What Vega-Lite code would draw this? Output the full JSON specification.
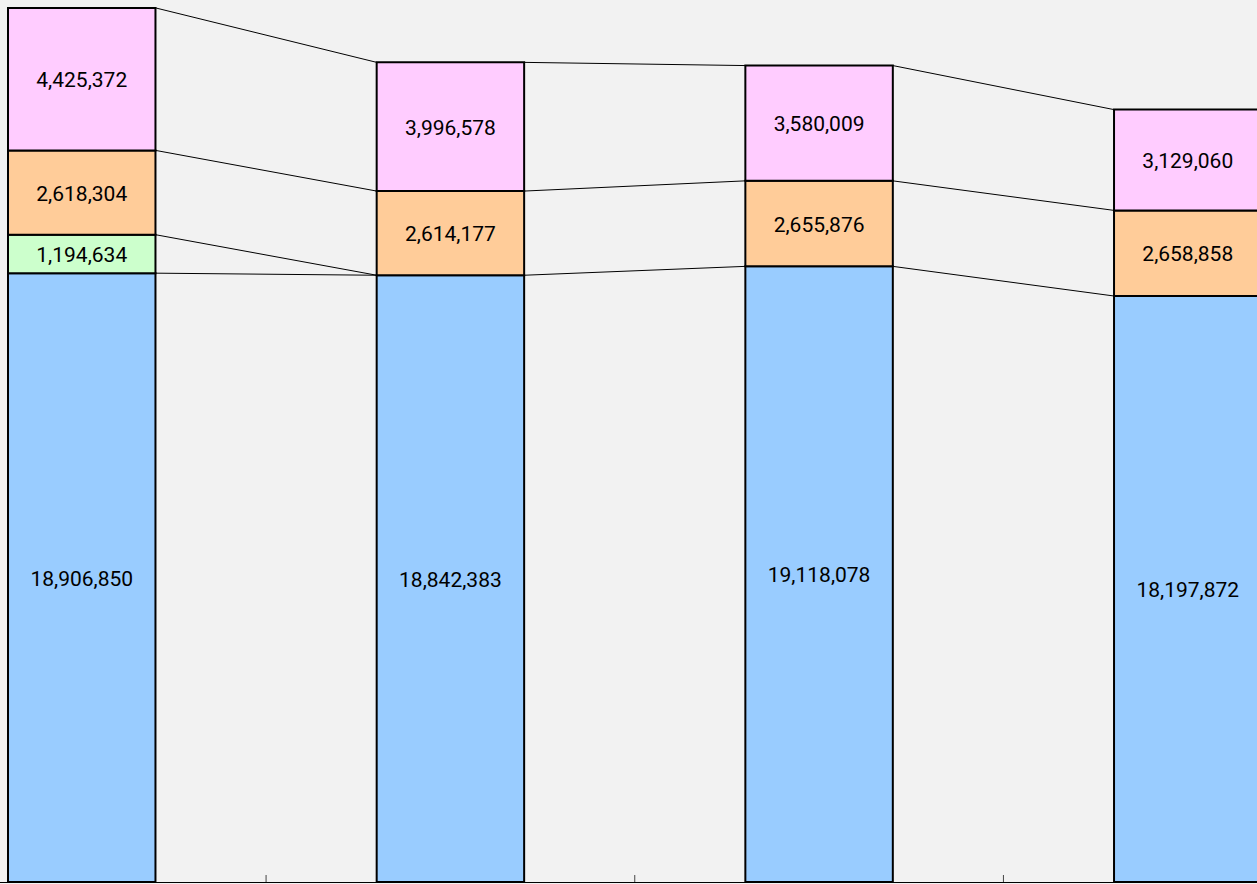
{
  "$schema": "https://vega.github.io/schema/vega-lite/v6.json",
  "width": 1257,
  "height": 882,
  "autosize": {"type": "none"},
  "padding": {"top": 0, "left": 0, "right": 0, "bottom": 2},
  "background": "#f2f2f2",
  "config": {
    "view": {"stroke": null},
    "axisX": {"labels": false, "title": null, "ticks": false, "domain": true, "domainColor": "black", "domainWidth": 1, "grid": false, "zindex": 1}
  },
  "datasets": {
    "bars": [
      {"cat": "1", "series": "s1", "order": 1, "value": 18906850},
      {"cat": "1", "series": "s2", "order": 2, "value": 1194634},
      {"cat": "1", "series": "s3", "order": 3, "value": 2618304},
      {"cat": "1", "series": "s4", "order": 4, "value": 4425372},
      {"cat": "2", "series": "s1", "order": 1, "value": 18842383},
      {"cat": "2", "series": "s3", "order": 3, "value": 2614177},
      {"cat": "2", "series": "s4", "order": 4, "value": 3996578},
      {"cat": "3", "series": "s1", "order": 1, "value": 19118078},
      {"cat": "3", "series": "s3", "order": 3, "value": 2655876},
      {"cat": "3", "series": "s4", "order": 4, "value": 3580009},
      {"cat": "4", "series": "s1", "order": 1, "value": 18197872},
      {"cat": "4", "series": "s3", "order": 3, "value": 2658858},
      {"cat": "4", "series": "s4", "order": 4, "value": 3129060}
    ],
    "links": [
      {"from": "1", "to": "2", "a": 18906850, "b": 18842383},
      {"from": "1", "to": "2", "a": 20101484, "b": 18842383},
      {"from": "1", "to": "2", "a": 22719788, "b": 21456560},
      {"from": "1", "to": "2", "a": 27145160, "b": 25453138},
      {"from": "2", "to": "3", "a": 18842383, "b": 19118078},
      {"from": "2", "to": "3", "a": 21456560, "b": 21773954},
      {"from": "2", "to": "3", "a": 25453138, "b": 25353963},
      {"from": "3", "to": "4", "a": 19118078, "b": 18197872},
      {"from": "3", "to": "4", "a": 21773954, "b": 20856730},
      {"from": "3", "to": "4", "a": 25353963, "b": 23985790}
    ],
    "boundaries": [
      {"cat": "2", "base": 0, "tip": 217000},
      {"cat": "3", "base": 0, "tip": 217000},
      {"cat": "4", "base": 0, "tip": 217000}
    ]
  },
  "layer": [
    {
      "data": {"name": "links"},
      "mark": {"type": "rule", "color": "black", "strokeWidth": 1},
      "encoding": {
        "x": {
          "field": "from",
          "type": "nominal",
          "bandPosition": 1,
          "scale": {"range": [-102.6, 1372.1], "paddingInner": 0.6, "paddingOuter": 0.3},
          "axis": {"orient": "bottom"}
        },
        "x2": {"field": "to", "bandPosition": 0},
        "y": {"field": "a", "type": "quantitative", "scale": {"domain": [0, 27390000], "nice": false, "zero": true}, "axis": null},
        "y2": {"field": "b"}
      }
    },
    {
      "data": {"name": "boundaries"},
      "mark": {"type": "rule", "color": "#444444", "strokeWidth": 1},
      "encoding": {
        "x": {"field": "cat", "type": "nominal", "bandPosition": -0.75},
        "y": {"field": "base", "type": "quantitative"},
        "y2": {"field": "tip"}
      }
    },
    {
      "data": {"name": "bars"},
      "transform": [
        {"stack": "value", "groupby": ["cat"], "sort": [{"field": "order", "order": "ascending"}], "as": ["v0", "v1"]},
        {"calculate": "(datum.v0 + datum.v1) / 2", "as": "mid"}
      ],
      "layer": [
        {
          "mark": {"type": "bar", "stroke": "black", "strokeWidth": 2},
          "encoding": {
            "x": {"field": "cat", "type": "nominal"},
            "y": {"field": "v0", "type": "quantitative"},
            "y2": {"field": "v1"},
            "color": {
              "field": "series",
              "type": "nominal",
              "scale": {"domain": ["s1", "s2", "s3", "s4"], "range": ["#99ccff", "#ccffcc", "#ffcc99", "#ffccff"]},
              "legend": null
            }
          }
        },
        {
          "mark": {"type": "text", "font": "Roboto", "fontSize": 21, "baseline": "middle", "dy": 2, "color": "black"},
          "encoding": {
            "x": {"field": "cat", "type": "nominal", "bandPosition": 0.5},
            "y": {"field": "mid", "type": "quantitative"},
            "text": {"field": "value", "type": "quantitative", "format": ","}
          }
        }
      ]
    }
  ]
}
